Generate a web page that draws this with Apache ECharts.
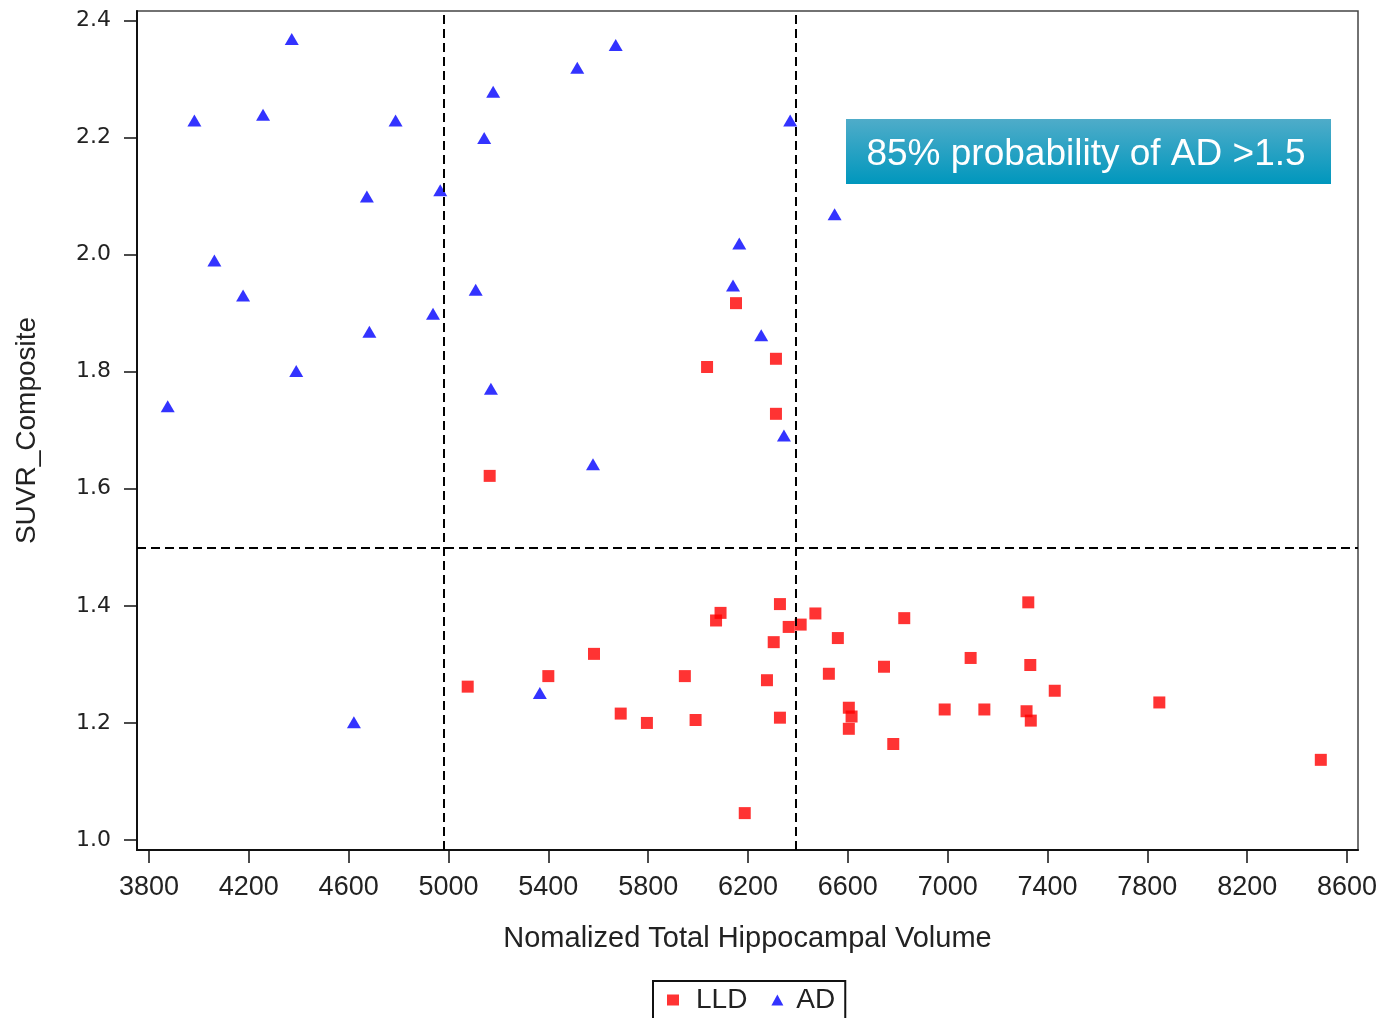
<!DOCTYPE html>
<html><head><meta charset="utf-8">
<script src="https://cdn.jsdelivr.net/npm/echarts@6/dist/echarts.min.js"></script>
<style>html,body{margin:0;padding:0;background:#fff}#c{width:1393px;height:1018px}</style>
</head><body><div id="c"></div>
<script>
var seriesNames = ['LLD', 'AD'];
var xTicks = [3800, 4200, 4600, 5000, 5400, 5800, 6200, 6600, 7000, 7400, 7800, 8200, 8600];
var yTicks = [1.0, 1.2, 1.4, 1.6, 1.8, 2.0, 2.2, 2.4];
var cutX = [4980, 6390];
var cutY = 1.5;
var lldData = [
  [6152,1.917],[6036,1.808],[6312,1.822],[6312,1.728],[5165,1.622],
  [5077,1.262],[5400,1.280],[5583,1.318],[5690,1.216],[5795,1.200],[5947,1.280],[5990,1.205],
  [6090,1.388],[6072,1.375],[6328,1.403],[6363,1.364],[6411,1.368],[6470,1.387],[6303,1.338],
  [6560,1.345],[6276,1.273],[6524,1.284],[6328,1.209],[6187,1.046],[6604,1.226],[6615,1.211],
  [6604,1.190],[6826,1.379],[6745,1.296],[6782,1.164],[6988,1.223],[7147,1.223],[7092,1.311],
  [7323,1.406],[7331,1.299],[7316,1.220],[7333,1.204],[7429,1.255],[7848,1.235],[8495,1.137]
];
var adData = [
  [4372,2.368],[3982,2.229],[4257,2.239],[4788,2.229],[4673,2.099],[4967,2.110],[4062,1.990],
  [4177,1.930],[4938,1.899],[4683,1.868],[4390,1.801],[3875,1.741],[5670,2.358],[5516,2.319],
  [5179,2.278],[6369,2.229],[5143,2.199],[6547,2.069],[6165,2.019],[5109,1.940],[6140,1.947],
  [6253,1.862],[5170,1.771],[6344,1.691],[5579,1.642],[4621,1.201],[5366,1.251]
];
var annotationText = '85% probability of AD >1.5';
var xTitle = 'Nomalized Total Hippocampal Volume';
var yTitle = 'SUVR_Composite';

var sans = "'Liberation Sans', Arial, sans-serif";
var chart = echarts.init(document.getElementById('c'), null, {renderer: 'canvas'});
var dashStyle = {color: '#000', width: 2, type: [9, 5]};
var markData = cutX.map(function (v) { return {xAxis: v}; });
markData.push({yAxis: cutY});

chart.setOption({
  animation: false,
  backgroundColor: '#fff',
  grid: {left: 137, top: 11, width: 1221, height: 839, show: true, borderColor: '#444', borderWidth: 1.5, backgroundColor: 'transparent'},
  xAxis: {
    type: 'value', min: 3752, max: 8644,
    name: xTitle, nameLocation: 'middle', nameGap: 74,
    nameTextStyle: {fontFamily: sans, fontSize: 29, color: '#222'},
    axisLine: {show: true, lineStyle: {color: '#111', width: 2}},
    axisTick: {show: true, length: 13, lineStyle: {color: '#111', width: 1.5}, customValues: xTicks},
    axisLabel: {margin: 24, fontFamily: sans, fontSize: 27, color: '#222', customValues: xTicks,
      formatter: function (v) { return String(v); }},
    splitLine: {show: false}
  },
  yAxis: {
    type: 'value', min: 0.983, max: 2.416,
    name: yTitle, nameLocation: 'middle', nameGap: 96, nameRotate: 90,
    nameTextStyle: {fontFamily: sans, fontSize: 28, color: '#222'},
    axisLine: {show: true, lineStyle: {color: '#111', width: 2}},
    axisTick: {show: true, length: 13, lineStyle: {color: '#111', width: 1.5}, customValues: yTicks},
    axisLabel: {margin: 26, fontFamily: "'DejaVu Sans', Verdana, sans-serif", fontSize: 22, color: '#222',
      customValues: yTicks, formatter: function (v) { return v.toFixed(1); }},
    splitLine: {show: false}
  },
  legend: {
    left: 653, top: 981, orient: 'horizontal',
    data: [
      {name: 'LLD', icon: 'rect', textStyle: {padding: [0, 0, 0, 12]}},
      {name: 'AD', icon: 'triangle', textStyle: {padding: [0, 0, 0, 8]}}
    ],
    itemWidth: 12, itemHeight: 11, itemGap: 24,
    borderColor: '#111', borderWidth: 2, padding: [5, 10, 14, 14],
    textStyle: {fontFamily: sans, fontSize: 28, color: '#222'}
  },
  series: [
    {
      name: 'LLD', type: 'scatter', symbol: 'rect', symbolSize: 12,
      itemStyle: {color: '#ff0000'}, data: lldData,
      markLine: {silent: true, symbol: ['none', 'none'], label: {show: false}, lineStyle: dashStyle, data: markData}
    },
    {
      name: 'AD', type: 'scatter', symbol: 'triangle', symbolSize: [14, 12],
      itemStyle: {color: '#0000ff'}, data: adData
    }
  ],
  graphic: [
    {
      type: 'group', left: 846, top: 119,
      children: [
        {type: 'rect', shape: {x: 0, y: 0, width: 485, height: 65},
          style: {fill: new echarts.graphic.LinearGradient(0, 0, 0, 1, [{offset: 0, color: '#4facc9'}, {offset: 1, color: '#0097bd'}])}},
        {type: 'text', x: 240, y: 36,
          style: {text: annotationText, fill: '#fff', fontFamily: sans, fontSize: 37, align: 'center', verticalAlign: 'middle'}}
      ]
    }
  ]
});
</script></body></html>
